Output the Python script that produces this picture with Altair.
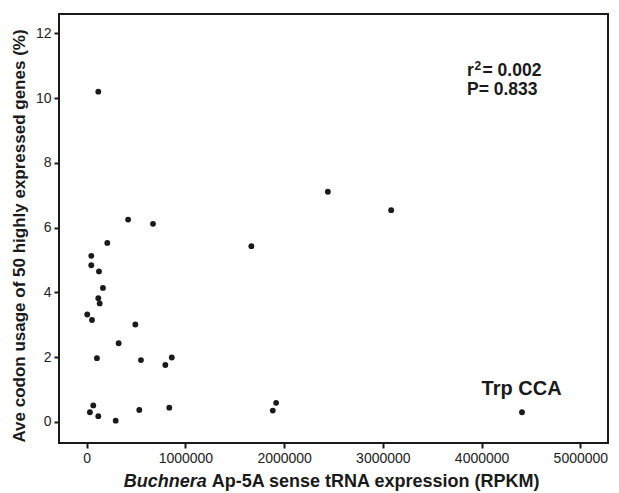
import altair as alt
import pandas as pd

# tRNA expression (RPKM) and average codon usage (%)
expression = [118000, 420000, 672000, 209000, 1668000, 47000, 47000, 125000, 165000,
              118000, 132000, 6000, 54000, 493000, 324000, 104000, 550000, 797000,
              862000, 67000, 33000, 118000, 294000, 533000, 837000, 1885000, 1919000,
              2443000, 3084000, 4409000]
usage = [10.2, 6.25, 6.12, 5.53, 5.43, 5.13, 4.84, 4.65, 4.14,
         3.82, 3.66, 3.32, 3.15, 3.01, 2.43, 1.97, 1.91, 1.76,
         1.99, 0.51, 0.30, 0.18, 0.04, 0.37, 0.44, 0.35, 0.59,
         7.11, 6.54, 0.30]

x_ticks = [0, 1000000, 2000000, 3000000, 4000000, 5000000]
y_ticks = [0, 2, 4, 6, 8, 10, 12]
x_domain = [-280000, 5280000]
y_domain = [-0.65, 12.6]

stat_lines = ["= 0.002", "P= 0.833"]
stat_x = [3852000, 3852000]
stat_y = [10.68, 10.09]
label_text = ["Trp CCA"]
label_x = [4405000]
label_y = [0.82]

FONT = "Liberation Sans"
INK = "#1a1a1a"

df = pd.DataFrame({"expr": expression, "usage": usage})

xs = alt.Scale(domain=x_domain, nice=False, zero=False)
ys = alt.Scale(domain=y_domain, nice=False, zero=False)

x_axis = alt.Axis(values=x_ticks, format="d", title=None, grid=False, domain=False,
                  tickSize=5, tickWidth=2, tickColor=INK, labelFont=FONT,
                  labelFontSize=14, labelColor="#222", labelPadding=3)
y_axis = alt.Axis(values=y_ticks, format="d", title=None, grid=False, domain=False,
                  tickSize=5, tickWidth=2, tickColor=INK, labelFont=FONT,
                  labelFontSize=14, labelColor="#222", labelPadding=3)

points = alt.Chart(df).mark_circle(size=34, color=INK, opacity=1).encode(
    x=alt.X("expr:Q", scale=xs, axis=x_axis),
    y=alt.Y("usage:Q", scale=ys, axis=y_axis),
)

# statistics text
r_df = pd.DataFrame({"x": [stat_x[0]], "y": [stat_y[0]], "t": ["r"]})
r_txt = alt.Chart(r_df).mark_text(align="left", baseline="alphabetic", font=FONT,
                                  fontWeight="bold", fontSize=17.5, color=INK).encode(
    x=alt.X("x:Q", scale=xs), y=alt.Y("y:Q", scale=ys), text="t:N")
sup_df = pd.DataFrame({"x": [stat_x[0]], "y": [stat_y[0]], "t": ["2"]})
sup_txt = alt.Chart(sup_df).mark_text(align="left", baseline="alphabetic", font=FONT,
                                      fontWeight="bold", fontSize=12, color=INK,
                                      dx=7.5, dy=-6).encode(
    x=alt.X("x:Q", scale=xs), y=alt.Y("y:Q", scale=ys), text="t:N")
st_df = pd.DataFrame({"x": stat_x, "y": stat_y, "t": stat_lines})
st1 = alt.Chart(st_df.iloc[[0]]).mark_text(align="left", baseline="alphabetic", font=FONT,
                                           fontWeight="bold", fontSize=17.5, color=INK,
                                           dx=15.5).encode(
    x=alt.X("x:Q", scale=xs), y=alt.Y("y:Q", scale=ys), text="t:N")
st2 = alt.Chart(st_df.iloc[[1]]).mark_text(align="left", baseline="alphabetic", font=FONT,
                                           fontWeight="bold", fontSize=17.5, color=INK).encode(
    x=alt.X("x:Q", scale=xs), y=alt.Y("y:Q", scale=ys), text="t:N")

lab_df = pd.DataFrame({"x": label_x, "y": label_y, "t": label_text})
lab = alt.Chart(lab_df).mark_text(align="center", baseline="alphabetic", font=FONT,
                                  fontWeight="bold", fontSize=20, color=INK).encode(
    x=alt.X("x:Q", scale=xs), y=alt.Y("y:Q", scale=ys), text="t:N")

# axis titles
one = pd.DataFrame({"t": ["x"]})
ytitle = alt.Chart(one).mark_text(align="center", baseline="alphabetic", angle=270,
                                  font=FONT, fontWeight="bold", fontSize=17, color=INK,
                                  text="Ave codon usage of 50 highly expressed genes (%)").encode(
    x=alt.value(-34), y=alt.value(222))
xt1 = alt.Chart(one).mark_text(align="right", baseline="alphabetic", font=FONT,
                               fontWeight="bold", fontStyle="italic", fontSize=18, color=INK,
                               text="Buchnera").encode(x=alt.value(147.7), y=alt.value(473))
xt2 = alt.Chart(one).mark_text(align="left", baseline="alphabetic", font=FONT,
                               fontWeight="bold", fontSize=18, color=INK,
                               text="Ap-5A sense tRNA expression (RPKM)").encode(
    x=alt.value(152.7), y=alt.value(473))

chart = alt.layer(points, r_txt, sup_txt, st1, st2, lab, ytitle, xt1, xt2).properties(
    width=549, height=429,
    autosize=alt.AutoSizeParams(type="none"),
    padding={"left": 51, "top": 6, "right": 3, "bottom": 50},
    background="white",
).configure_view(stroke=INK, strokeWidth=2)

chart.save("out.html", embed_options={"renderer": "svg", "actions": False})
